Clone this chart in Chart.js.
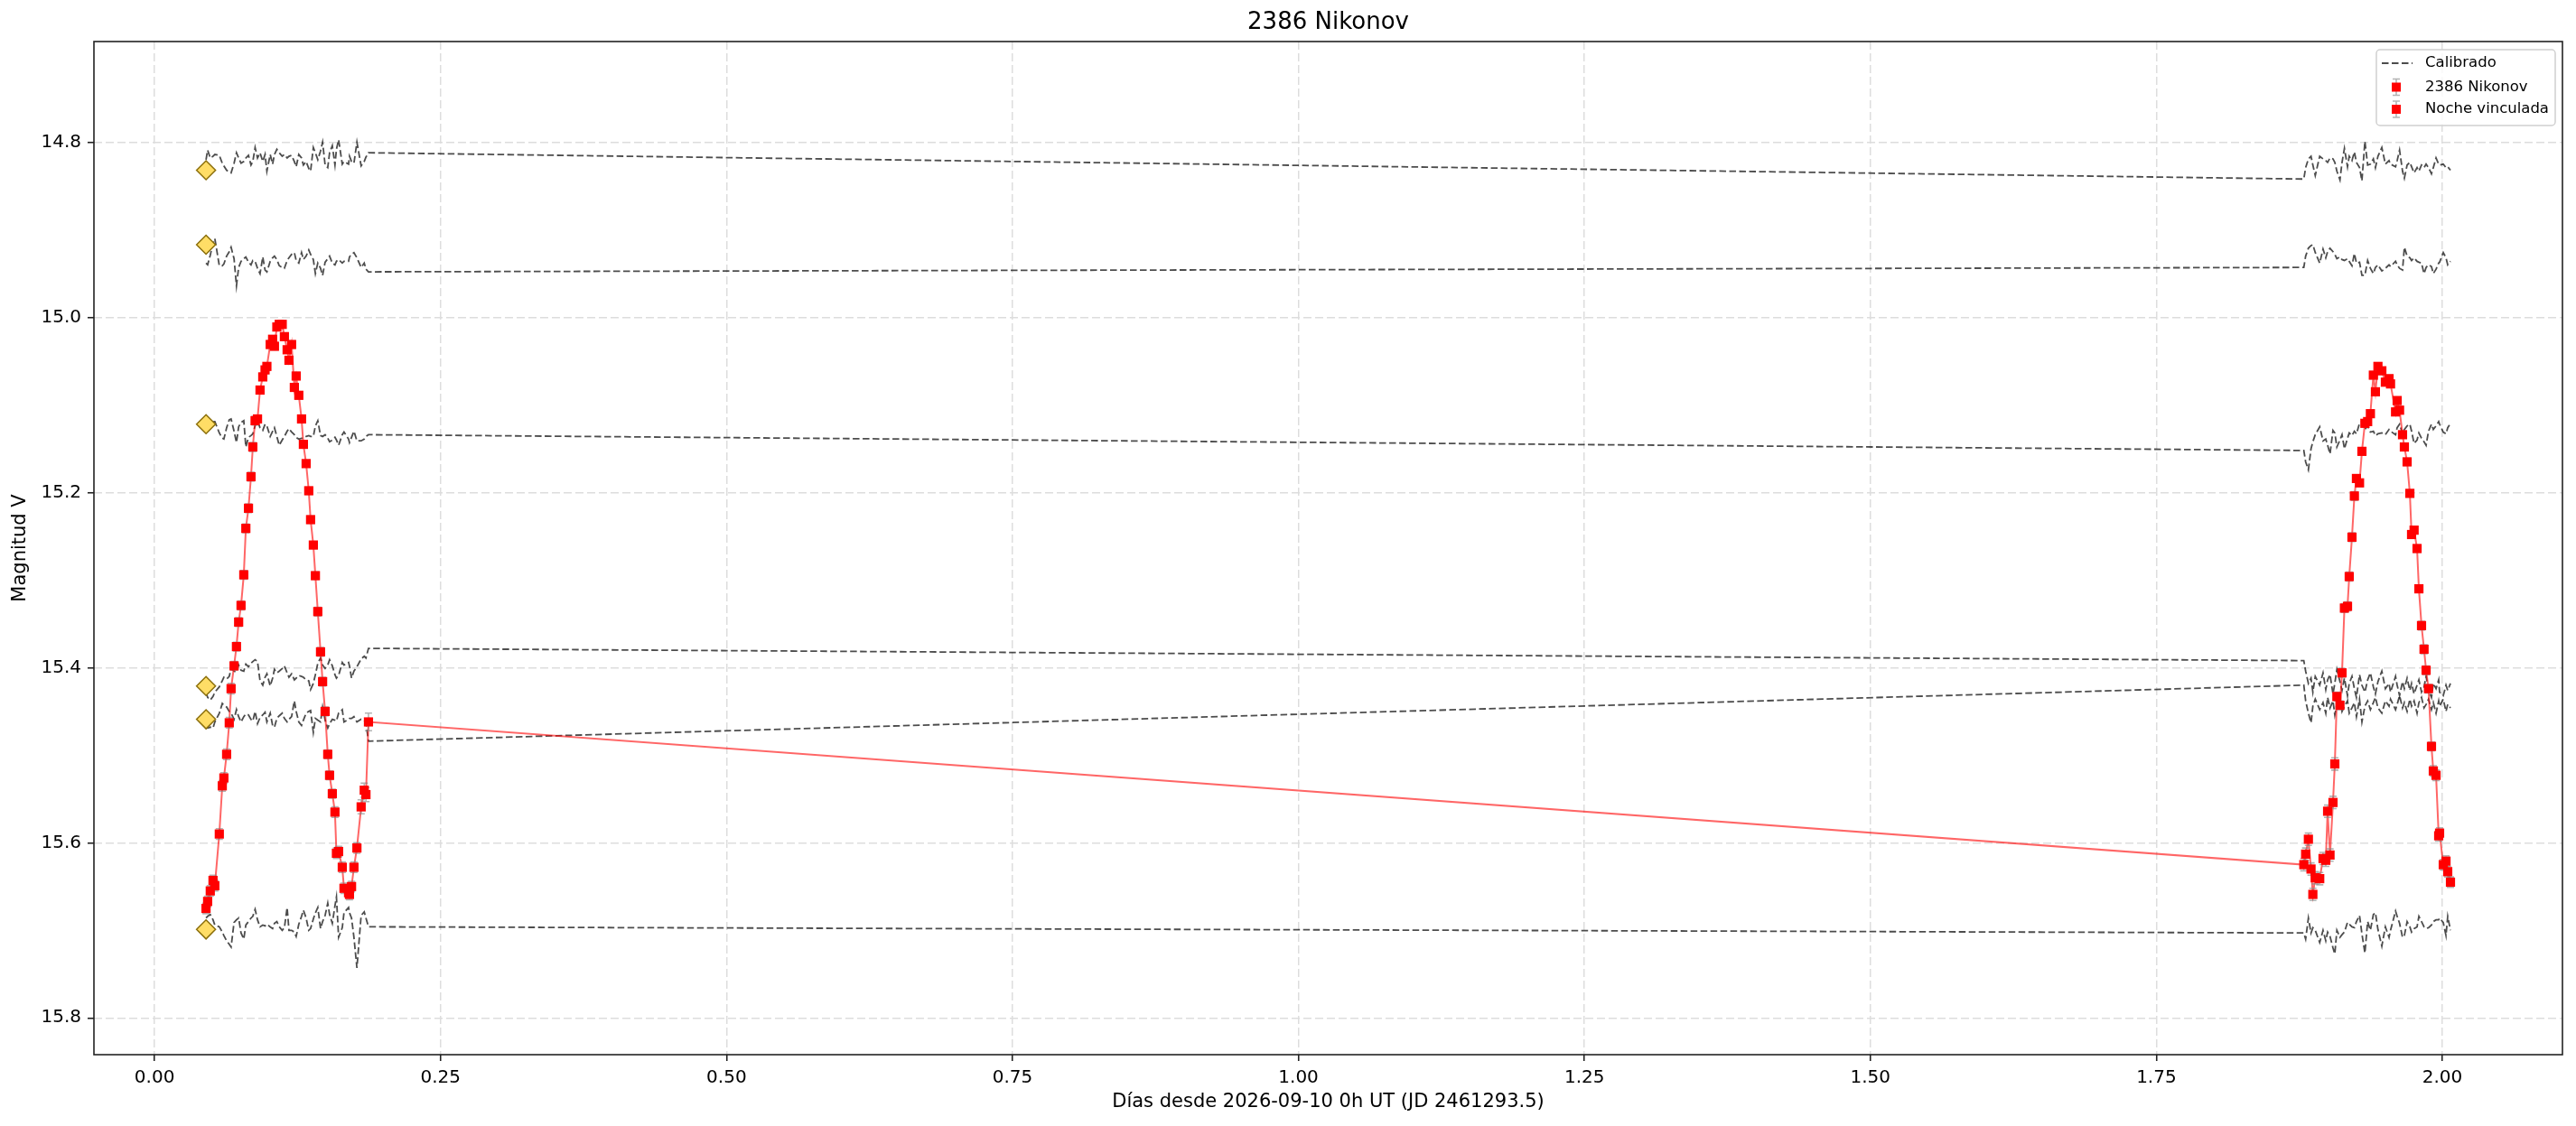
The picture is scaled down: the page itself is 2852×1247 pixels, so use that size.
<!DOCTYPE html>
<html>
<head>
<meta charset="utf-8">
<script src="https://cdn.jsdelivr.net/npm/chart.js@4/dist/chart.umd.min.js"></script>
<style>
  html, body { margin: 0; padding: 0; background: #fff; }
  canvas { display: block; }
</style>
</head>
<body>
<canvas id="curva" width="2852" height="1247"></canvas>
<script>
var titulo = '2386 Nikonov';
var xTicks = [0, 0.25, 0.5, 0.75, 1.0, 1.25, 1.5, 1.75, 2.0];
var yTicks = [14.8, 15.0, 15.2, 15.4, 15.6, 15.8];

// noche 1 (asteroide)
var night1Times = [
  0.0450, 0.0464, 0.0487, 0.0511, 0.0527, 0.0566, 0.0592, 0.0606, 0.0630, 0.0653,
  0.0669, 0.0695, 0.0716, 0.0735, 0.0756, 0.0780, 0.0798, 0.0821, 0.0843, 0.0859,
  0.0879, 0.0900, 0.0922, 0.0946, 0.0966, 0.0982, 0.1011, 0.1032, 0.1048, 0.1069,
  0.1090, 0.1116, 0.1135, 0.1159, 0.1175, 0.1198, 0.1222, 0.1238, 0.1261, 0.1285,
  0.1301, 0.1325, 0.1348, 0.1364, 0.1388, 0.1406, 0.1427, 0.1451, 0.1469, 0.1491,
  0.1514, 0.1530, 0.1554, 0.1577, 0.1590, 0.1609, 0.1641, 0.1656, 0.1696, 0.1704,
  0.1722, 0.1743, 0.1769, 0.1806, 0.1833, 0.1848, 0.1870
];
var night1Mags = [
  15.675, 15.667, 15.655, 15.643, 15.649, 15.590, 15.535, 15.526, 15.499, 15.463,
  15.424, 15.398, 15.376, 15.348, 15.329, 15.294, 15.241, 15.218, 15.182, 15.148,
  15.118, 15.116, 15.083, 15.068, 15.060, 15.056, 15.031, 15.025, 15.033, 15.011,
  15.008, 15.008, 15.022, 15.037, 15.049, 15.031, 15.080, 15.067, 15.089, 15.116,
  15.145, 15.167, 15.198, 15.231, 15.260, 15.295, 15.336, 15.382, 15.416, 15.450,
  15.499, 15.523, 15.544, 15.565, 15.612, 15.610, 15.628, 15.652, 15.657, 15.659,
  15.650, 15.628, 15.606, 15.559, 15.540, 15.545, 15.462
];
var night1Errs = [
  0.006, 0.006, 0.006, 0.006, 0.006, 0.006, 0.006, 0.006, 0.006, 0.006,
  0.006, 0.005, 0.005, 0.005, 0.005, 0.005, 0.005, 0.005, 0.005, 0.005,
  0.005, 0.004, 0.004, 0.004, 0.004, 0.004, 0.004, 0.004, 0.004, 0.004,
  0.004, 0.004, 0.004, 0.004, 0.004, 0.004, 0.004, 0.004, 0.004, 0.004,
  0.004, 0.004, 0.004, 0.004, 0.004, 0.004, 0.005, 0.005, 0.005, 0.005,
  0.005, 0.005, 0.005, 0.006, 0.006, 0.006, 0.006, 0.006, 0.006, 0.006,
  0.006, 0.006, 0.006, 0.008, 0.008, 0.008, 0.010
];

// noche 2 (vinculada)
var night2Times = [
  1.8789, 1.8805, 1.8829, 1.8852, 1.8868, 1.8889, 1.8928, 1.8957, 1.8981, 1.8997,
  1.9018, 1.9044, 1.9060, 1.9078, 1.9105, 1.9123, 1.9144, 1.9171, 1.9186, 1.9210,
  1.9231, 1.9249, 1.9276, 1.9297, 1.9323, 1.9347, 1.9371, 1.9397, 1.9415, 1.9437,
  1.9471, 1.9502, 1.9534, 1.9547, 1.9591, 1.9605, 1.9626, 1.9652, 1.9668, 1.9692,
  1.9716, 1.9731, 1.9753, 1.9779, 1.9795, 1.9818, 1.9840, 1.9858, 1.9879, 1.9905,
  1.9921, 1.9945, 1.9968, 1.9976, 2.0008, 2.0032, 2.0047, 2.0071
];
var night2Mags = [
  15.625, 15.613, 15.596, 15.630, 15.659, 15.640, 15.641, 15.618, 15.620, 15.564,
  15.614, 15.554, 15.510, 15.433, 15.443, 15.406, 15.332, 15.330, 15.296, 15.251,
  15.204, 15.184, 15.189, 15.153, 15.121, 15.119, 15.110, 15.066, 15.085, 15.056,
  15.061, 15.074, 15.070, 15.076, 15.108, 15.095, 15.106, 15.134, 15.148, 15.165,
  15.201, 15.248, 15.243, 15.264, 15.310, 15.352, 15.379, 15.403, 15.424, 15.490,
  15.518, 15.523, 15.592, 15.589, 15.625, 15.621, 15.633, 15.645
];
var night2Errs = [
  0.007, 0.007, 0.007, 0.007, 0.007, 0.007, 0.007, 0.007, 0.007, 0.007,
  0.007, 0.007, 0.007, 0.005, 0.005, 0.005, 0.005, 0.005, 0.005, 0.005,
  0.005, 0.004, 0.004, 0.004, 0.004, 0.004, 0.004, 0.004, 0.004, 0.004,
  0.004, 0.004, 0.004, 0.004, 0.004, 0.004, 0.004, 0.004, 0.004, 0.004,
  0.004, 0.004, 0.004, 0.004, 0.004, 0.005, 0.005, 0.005, 0.005, 0.005,
  0.006, 0.006, 0.006, 0.006, 0.006, 0.006, 0.006, 0.006
];

// estrellas de comparacion (calibradas), mismas horas que el asteroide
var compRefMags = [14.832, 14.917, 15.122, 15.421, 15.459, 15.699];

var calA1 = [
  14.820, 14.809, 14.818, 14.816, 14.814, 14.815, 14.824, 14.827, 14.832, 14.834,
  14.835, 14.824, 14.812, 14.818, 14.824, 14.822, 14.818, 14.815, 14.826, 14.822,
  14.806, 14.818, 14.812, 14.822, 14.814, 14.833, 14.814, 14.825, 14.814, 14.808,
  14.812, 14.816, 14.814, 14.818, 14.816, 14.815, 14.822, 14.828, 14.814, 14.818,
  14.826, 14.822, 14.830, 14.833, 14.806, 14.812, 14.820, 14.810, 14.800, 14.826,
  14.829, 14.812, 14.804, 14.826, 14.808, 14.797, 14.825, 14.822, 14.825, 14.816,
  14.822, 14.824, 14.800, 14.827, 14.822, 14.817, 14.812
];
var calA2 = [
  14.842, 14.829, 14.819, 14.816, 14.826, 14.838, 14.816, 14.819, 14.821, 14.823,
  14.818, 14.819, 14.823, 14.833, 14.843, 14.823, 14.807, 14.828, 14.816, 14.821,
  14.811, 14.823, 14.829, 14.844, 14.799, 14.826, 14.825, 14.819, 14.829, 14.816,
  14.806, 14.825, 14.821, 14.825, 14.828, 14.821, 14.809, 14.833, 14.841, 14.826,
  14.823, 14.828, 14.835, 14.829, 14.833, 14.826, 14.829, 14.825, 14.829, 14.836,
  14.829, 14.818, 14.825, 14.826, 14.825, 14.829, 14.828, 14.832
];
var calB1 = [
  14.938, 14.940, 14.929, 14.915, 14.910, 14.941, 14.941, 14.939, 14.930, 14.925,
  14.920, 14.933, 14.964, 14.943, 14.936, 14.933, 14.931, 14.937, 14.940, 14.935,
  14.936, 14.944, 14.950, 14.931, 14.946, 14.948, 14.936, 14.932, 14.930, 14.934,
  14.941, 14.943, 14.944, 14.935, 14.932, 14.928, 14.926, 14.935, 14.938, 14.926,
  14.934, 14.930, 14.923, 14.928, 14.934, 14.950, 14.938, 14.944, 14.952, 14.937,
  14.933, 14.930, 14.938, 14.940, 14.936, 14.934, 14.938, 14.936, 14.936, 14.931,
  14.928, 14.926, 14.932, 14.943, 14.938, 14.945, 14.948
];
var calB2 = [
  14.943, 14.930, 14.921, 14.918, 14.917, 14.926, 14.938, 14.922, 14.932, 14.925,
  14.921, 14.925, 14.928, 14.933, 14.931, 14.934, 14.935, 14.933, 14.936, 14.941,
  14.927, 14.938, 14.937, 14.952, 14.952, 14.935, 14.944, 14.950, 14.943, 14.940,
  14.947, 14.944, 14.940, 14.942, 14.936, 14.940, 14.944, 14.946, 14.920, 14.930,
  14.932, 14.935, 14.932, 14.936, 14.937, 14.938, 14.950, 14.943, 14.940, 14.942,
  14.950, 14.945, 14.938, 14.937, 14.926, 14.932, 14.940, 14.936
];
var calC1 = [
  15.122, 15.124, 15.120, 15.119, 15.119, 15.132, 15.138, 15.139, 15.126, 15.117,
  15.116, 15.130, 15.143, 15.125, 15.120, 15.118, 15.148, 15.137, 15.135, 15.133,
  15.124, 15.118, 15.126, 15.129, 15.122, 15.124, 15.136, 15.130, 15.126, 15.136,
  15.146, 15.140, 15.136, 15.130, 15.127, 15.131, 15.134, 15.137, 15.139, 15.138,
  15.138, 15.136, 15.135, 15.136, 15.136, 15.124, 15.118, 15.135, 15.136, 15.134,
  15.138, 15.142, 15.140, 15.137, 15.140, 15.146, 15.134, 15.131, 15.139, 15.143,
  15.137, 15.130, 15.141, 15.141, 15.139, 15.136, 15.134
];
var calC2 = [
  15.152, 15.165, 15.174, 15.150, 15.142, 15.134, 15.125, 15.141, 15.139, 15.146,
  15.156, 15.129, 15.132, 15.148, 15.140, 15.134, 15.150, 15.138, 15.132, 15.135,
  15.130, 15.133, 15.121, 15.119, 15.128, 15.124, 15.131, 15.130, 15.135, 15.133,
  15.132, 15.134, 15.128, 15.130, 15.134, 15.126, 15.122, 15.133, 15.128, 15.124,
  15.122, 15.130, 15.144, 15.140, 15.132, 15.138, 15.142, 15.146, 15.130, 15.122,
  15.128, 15.124, 15.119, 15.122, 15.131, 15.133, 15.126, 15.121
];
var calD1 = [
  15.428, 15.434, 15.437, 15.433, 15.428, 15.422, 15.415, 15.411, 15.413, 15.410,
  15.401, 15.404, 15.405, 15.397, 15.403, 15.404, 15.396, 15.399, 15.395, 15.393,
  15.391, 15.393, 15.415, 15.420, 15.411, 15.407, 15.421, 15.412, 15.402, 15.406,
  15.404, 15.401, 15.398, 15.406, 15.411, 15.407, 15.414, 15.412, 15.409, 15.410,
  15.411, 15.414, 15.415, 15.425, 15.418, 15.408, 15.395, 15.389, 15.397, 15.401,
  15.397, 15.391, 15.398, 15.408, 15.412, 15.409, 15.394, 15.397, 15.394, 15.398,
  15.412, 15.404, 15.399, 15.390, 15.387, 15.389, 15.378
];
var calD2 = [
  15.392, 15.404, 15.418, 15.412, 15.428, 15.410, 15.420, 15.406, 15.425, 15.414,
  15.408, 15.430, 15.418, 15.402, 15.416, 15.426, 15.412, 15.432, 15.418, 15.410,
  15.424, 15.434, 15.408, 15.420, 15.428, 15.414, 15.406, 15.422, 15.430, 15.416,
  15.404, 15.424, 15.418, 15.428, 15.410, 15.420, 15.432, 15.416, 15.424, 15.412,
  15.426, 15.418, 15.430, 15.420, 15.414, 15.428, 15.422, 15.410, 15.426, 15.434,
  15.418, 15.424, 15.414, 15.428, 15.432, 15.420, 15.426, 15.418
];
var calE1 = [
  15.466, 15.469, 15.468, 15.469, 15.462, 15.452, 15.441, 15.443, 15.445, 15.450,
  15.452, 15.459, 15.448, 15.456, 15.462, 15.456, 15.453, 15.454, 15.459, 15.461,
  15.450, 15.464, 15.457, 15.454, 15.451, 15.462, 15.452, 15.466, 15.468, 15.458,
  15.455, 15.452, 15.458, 15.462, 15.459, 15.456, 15.438, 15.450, 15.462, 15.466,
  15.460, 15.452, 15.450, 15.449, 15.474, 15.458, 15.460, 15.462, 15.445, 15.460,
  15.469, 15.464, 15.459, 15.460, 15.461, 15.452, 15.448, 15.462, 15.459, 15.458,
  15.458, 15.456, 15.462, 15.459, 15.460, 15.463, 15.484
];
var calE2 = [
  15.420, 15.438, 15.452, 15.463, 15.444, 15.436, 15.448, 15.440, 15.452, 15.434,
  15.446, 15.438, 15.454, 15.442, 15.436, 15.450, 15.444, 15.438, 15.452, 15.446,
  15.440, 15.456, 15.436, 15.462, 15.444, 15.438, 15.448, 15.440, 15.434, 15.446,
  15.452, 15.438, 15.444, 15.436, 15.448, 15.442, 15.432, 15.446, 15.440, 15.450,
  15.436, 15.444, 15.438, 15.452, 15.440, 15.434, 15.446, 15.442, 15.436, 15.448,
  15.440, 15.452, 15.438, 15.444, 15.436, 15.450, 15.442, 15.446
];
var calF1 = [
  15.686, 15.684, 15.682, 15.688, 15.694, 15.696, 15.702, 15.706, 15.712, 15.716,
  15.719, 15.691, 15.688, 15.686, 15.703, 15.710, 15.694, 15.690, 15.686, 15.684,
  15.676, 15.688, 15.696, 15.694, 15.695, 15.693, 15.696, 15.698, 15.692, 15.690,
  15.696, 15.700, 15.697, 15.674, 15.700, 15.700, 15.702, 15.707, 15.693, 15.684,
  15.677, 15.686, 15.700, 15.698, 15.687, 15.680, 15.674, 15.698, 15.690, 15.683,
  15.669, 15.682, 15.692, 15.672, 15.662, 15.708, 15.697, 15.680, 15.674, 15.680,
  15.686, 15.708, 15.743, 15.683, 15.679, 15.686, 15.696
];
var calF2 = [
  15.703, 15.710, 15.686, 15.703, 15.697, 15.700, 15.714, 15.700, 15.712, 15.702,
  15.707, 15.720, 15.727, 15.700, 15.708, 15.705, 15.702, 15.691, 15.693, 15.696,
  15.697, 15.690, 15.683, 15.704, 15.726, 15.690, 15.700, 15.682, 15.680, 15.699,
  15.718, 15.696, 15.708, 15.700, 15.678, 15.684, 15.692, 15.708, 15.706, 15.690,
  15.696, 15.702, 15.698, 15.696, 15.684, 15.690, 15.696, 15.698, 15.697, 15.694,
  15.690, 15.688, 15.688, 15.686, 15.691, 15.706, 15.684, 15.700
];

var FONT = 'DejaVu Sans';
var ROJO_LINEA = 'rgba(255, 0, 0, 0.6)';
var GRIS_ERR = 'rgba(128, 128, 128, 0.6)';
var GRIS_CAL = 'rgba(0, 0, 0, 0.7)';

function puntos(tiempos, mags) {
  return tiempos.map(function (t, i) { return { x: t, y: mags[i] }; });
}

var allTimes = night1Times.concat(night2Times);
var calibradas = [
  calA1.concat(calA2), calB1.concat(calB2), calC1.concat(calC2),
  calD1.concat(calD2), calE1.concat(calE2), calF1.concat(calF2)
];

var datasets = [];

// asteroide: linea que une las dos noches
datasets.push({
  label: 'linea',
  data: puntos(allTimes, night1Mags.concat(night2Mags)),
  showLine: true, borderColor: ROJO_LINEA, borderWidth: 2,
  pointRadius: 0, order: 1
});
datasets.push({
  label: titulo,
  data: puntos(night1Times, night1Mags),
  errores: night1Errs,
  showLine: false, pointStyle: 'rect', pointRadius: 7.2, pointBorderWidth: 0,
  backgroundColor: '#ff0000', borderColor: '#ff0000', order: 0
});
datasets.push({
  label: 'Noche vinculada',
  data: puntos(night2Times, night2Mags),
  errores: night2Errs,
  showLine: false, pointStyle: 'rect', pointRadius: 7.2, pointBorderWidth: 0,
  backgroundColor: '#ff0000', borderColor: '#ff0000', order: 0
});
// magnitudes de referencia (rombos)
datasets.push({
  label: 'ref',
  data: compRefMags.map(function (m) { return { x: night1Times[0], y: m }; }),
  showLine: false, pointStyle: 'rectRot', pointRadius: 10.5, pointBorderWidth: 1.5,
  backgroundColor: '#ffdd66', borderColor: '#8b6f0b', order: 2
});
calibradas.forEach(function (mags, k) {
  datasets.push({
    label: k === 0 ? 'Calibrado' : '',
    data: puntos(allTimes, mags),
    showLine: true, borderColor: GRIS_CAL, borderWidth: 1.8, borderDash: [7.5, 3.5],
    pointRadius: 0, order: 3
  });
});

// barras de error antes de dibujar los marcadores
var barrasError = {
  id: 'barrasError',
  beforeDatasetDraw: function (chart, args) {
    var ds = chart.data.datasets[args.index];
    if (!ds.errores) return;
    var ctx = chart.ctx;
    var y = chart.scales.y;
    ctx.save();
    ctx.strokeStyle = GRIS_ERR;
    ctx.lineWidth = 1.6;
    args.meta.data.forEach(function (p, i) {
      var v = ds.data[i].y, e = ds.errores[i];
      var y1 = y.getPixelForValue(v - e), y2 = y.getPixelForValue(v + e);
      ctx.beginPath();
      ctx.moveTo(p.x, y1); ctx.lineTo(p.x, y2);
      ctx.moveTo(p.x - 4, y1); ctx.lineTo(p.x + 4, y1);
      ctx.moveTo(p.x - 4, y2); ctx.lineTo(p.x + 4, y2);
      ctx.stroke();
    });
    ctx.restore();
  }
};

// marco, titulo y leyenda al estilo matplotlib
var marco = {
  id: 'marco',
  afterDatasetsDraw: function (chart) {
    var a = chart.chartArea, ctx = chart.ctx;
    ctx.save();
    ctx.strokeStyle = '#222';
    ctx.lineWidth = 1.6;
    ctx.strokeRect(a.left, a.top, a.right - a.left, a.bottom - a.top);
    ctx.restore();
  },
  afterDraw: function (chart) {
    var a = chart.chartArea, ctx = chart.ctx;
    ctx.save();
    ctx.fillStyle = '#000';
    ctx.font = '26px "' + FONT + '"';
    ctx.textAlign = 'center';
    ctx.textBaseline = 'middle';
    ctx.fillText(titulo, (a.left + a.right) / 2, 25);

    // leyenda
    var w = 198, h = 84;
    var bx = a.right - 8 - w, by = a.top + 9;
    ctx.beginPath();
    ctx.roundRect(bx, by, w, h, 4);
    ctx.fillStyle = 'rgba(255,255,255,0.8)';
    ctx.fill();
    ctx.strokeStyle = '#d0d0d0';
    ctx.lineWidth = 1.5;
    ctx.stroke();

    var filas = [by + 15, by + 41.5, by + 66];
    ctx.strokeStyle = GRIS_CAL;
    ctx.lineWidth = 1.8;
    ctx.setLineDash([7.5, 3.5]);
    ctx.beginPath();
    ctx.moveTo(bx + 6, filas[0]); ctx.lineTo(bx + 40, filas[0]);
    ctx.stroke();
    ctx.setLineDash([]);

    [filas[1], filas[2]].forEach(function (fy) {
      var mx = bx + 22;
      ctx.strokeStyle = GRIS_ERR;
      ctx.lineWidth = 1.6;
      ctx.beginPath();
      ctx.moveTo(mx, fy - 9); ctx.lineTo(mx, fy + 9);
      ctx.moveTo(mx - 4, fy - 9); ctx.lineTo(mx + 4, fy - 9);
      ctx.moveTo(mx - 4, fy + 9); ctx.lineTo(mx + 4, fy + 9);
      ctx.stroke();
      ctx.fillStyle = '#ff0000';
      ctx.fillRect(mx - 5, fy - 5, 10, 10);
    });

    ctx.fillStyle = '#000';
    ctx.font = '16.5px "' + FONT + '"';
    ctx.textAlign = 'left';
    ctx.fillText('Calibrado', bx + 54, filas[0]);
    ctx.fillText(titulo, bx + 54, filas[1]);
    ctx.fillText('Noche vinculada', bx + 54, filas[2]);
    ctx.restore();
  }
};

Chart.defaults.font.family = FONT;
Chart.defaults.color = '#000';

var ctx = document.getElementById('curva');
var myChart = new Chart(ctx, {
  type: 'scatter',
  data: { datasets: datasets },
  options: {
    responsive: false,
    animation: false,
    devicePixelRatio: 1,
    layout: { padding: { top: 46, right: 15, left: 0, bottom: 0 } },
    plugins: {
      legend: { display: false },
      title: { display: false },
      tooltip: { enabled: false }
    },
    scales: {
      x: {
        type: 'linear',
        min: -0.053,
        max: 2.105,
        afterFit: function (scale) { scale.height = 79; },
        afterBuildTicks: function (scale) {
          scale.ticks = xTicks.map(function (v) { return { value: v }; });
        },
        ticks: {
          autoSkip: false, maxRotation: 0, padding: 7,
          font: { size: 20 },
          callback: function (v) { return Number(v).toFixed(2); }
        },
        grid: {
          color: '#dddddd', lineWidth: 1.5,
          tickLength: 7, tickColor: '#222', tickWidth: 1.6, tickBorderDash: []
        },
        border: { display: false, dash: [9, 4] },
        title: {
          display: true,
          text: 'Días desde 2026-09-10 0h UT (JD 2461293.5)',
          font: { size: 21 },
          padding: { top: 4, bottom: 14 }
        }
      },
      y: {
        type: 'linear',
        reverse: true,
        min: 14.685,
        max: 15.842,
        afterFit: function (scale) { scale.width = 104; },
        afterBuildTicks: function (scale) {
          scale.ticks = yTicks.map(function (v) { return { value: v }; });
        },
        ticks: {
          autoSkip: false, padding: 7,
          font: { size: 20 },
          callback: function (v) { return Number(v).toFixed(1); }
        },
        grid: {
          color: '#dddddd', lineWidth: 1.5,
          tickLength: 7, tickColor: '#222', tickWidth: 1.6, tickBorderDash: []
        },
        border: { display: false, dash: [9, 4] },
        title: {
          display: true,
          text: 'Magnitud V',
          font: { size: 21 },
          padding: { top: 10, bottom: 0 }
        }
      }
    }
  },
  plugins: [barrasError, marco]
});
</script>
</body>
</html>
